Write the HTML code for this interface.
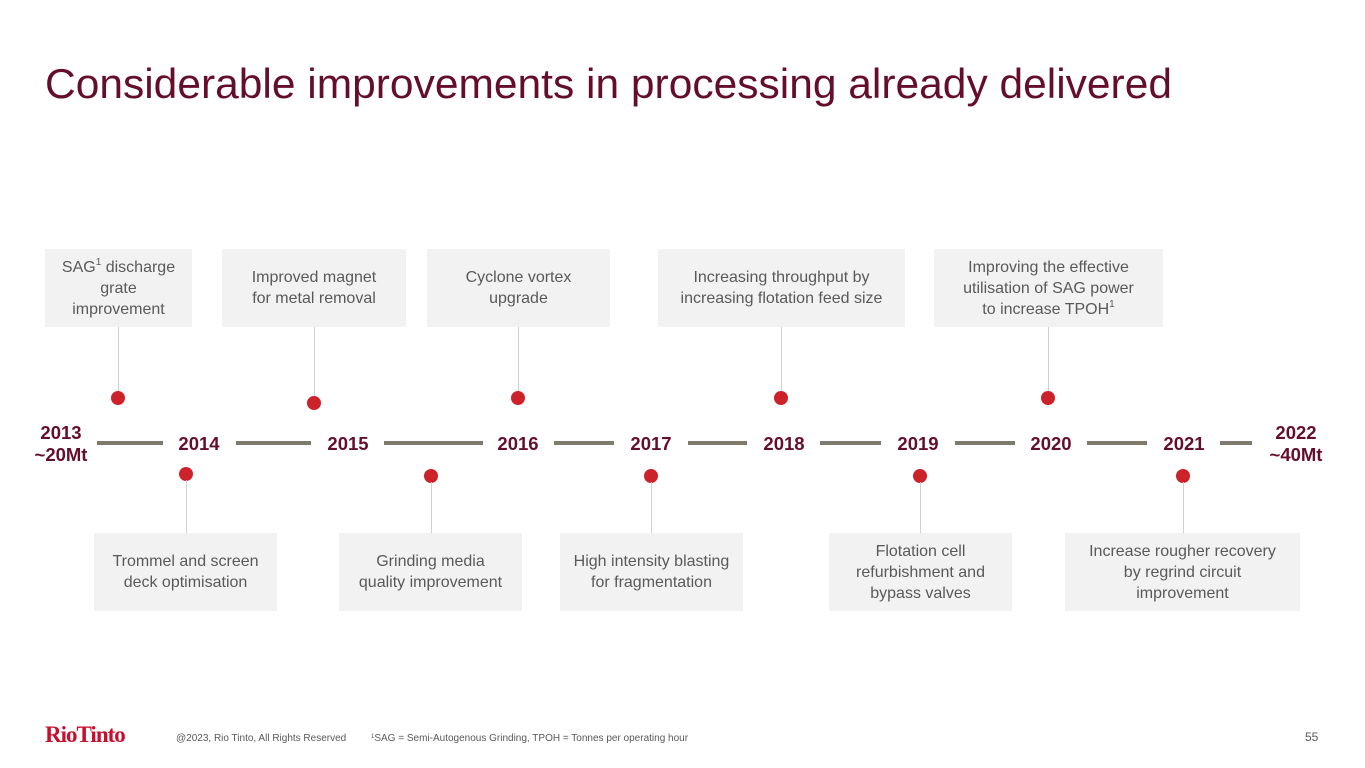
<!DOCTYPE html>
<html><head><meta charset="utf-8"><style>
body{margin:0;width:1365px;height:768px;background:#fff;position:relative;overflow:hidden;font-family:"Liberation Sans",Arial,sans-serif}
.abs{position:absolute}
.box{position:absolute;background:#f2f2f2;color:#595959;font-size:16px;line-height:21px;text-align:center;display:flex;align-items:center;justify-content:center}
.seg{position:absolute;height:4px;background:#7f7a6d;top:441px}
.yr{position:absolute;color:#650e2c;font-weight:bold;font-size:18.5px;text-align:center;width:80px;line-height:22px}
.dot{position:absolute;width:14px;height:14px;border-radius:50%;background:#cc2229}
.con{position:absolute;width:1px;background:#d0d0d0}
sup{font-size:10px;vertical-align:7px;line-height:0}
</style></head><body>
<svg class="abs" style="left:0;top:0" width="1365" height="120"><text x="45" y="98" font-size="42" fill="#650e2c" textLength="1127" lengthAdjust="spacingAndGlyphs" font-family="Liberation Sans, Arial, sans-serif">Considerable improvements in processing already delivered</text></svg>

<div>
<div class="seg" style="left:97px;width:66px"></div>
<div class="seg" style="left:236px;width:75px"></div>
<div class="seg" style="left:384px;width:99px"></div>
<div class="seg" style="left:554px;width:60px"></div>
<div class="seg" style="left:688px;width:59px"></div>
<div class="seg" style="left:820px;width:61px"></div>
<div class="seg" style="left:955px;width:60px"></div>
<div class="seg" style="left:1087px;width:60px"></div>
<div class="seg" style="left:1220px;width:32px"></div>
</div>

<div class="yr" style="left:21px;top:422px">2013<br>~20Mt</div>
<div class="yr" style="left:159px;top:433px">2014</div>
<div class="yr" style="left:308px;top:433px">2015</div>
<div class="yr" style="left:478px;top:433px">2016</div>
<div class="yr" style="left:611px;top:433px">2017</div>
<div class="yr" style="left:744px;top:433px">2018</div>
<div class="yr" style="left:878px;top:433px">2019</div>
<div class="yr" style="left:1011px;top:433px">2020</div>
<div class="yr" style="left:1144px;top:433px">2021</div>
<div class="yr" style="left:1256px;top:422px">2022<br>~40Mt</div>

<div class="box" style="left:45px;top:249px;width:147px;height:78px"><div>SAG<sup>1</sup> discharge<br>grate<br>improvement</div></div>
<div class="con" style="left:118px;top:327px;height:65px"></div><div class="dot" style="left:111px;top:391px"></div>
<div class="box" style="left:222px;top:249px;width:184px;height:78px"><div>Improved magnet<br>for metal removal</div></div>
<div class="con" style="left:314px;top:327px;height:70px"></div><div class="dot" style="left:307px;top:396px"></div>
<div class="box" style="left:427px;top:249px;width:183px;height:78px"><div>Cyclone vortex<br>upgrade</div></div>
<div class="con" style="left:518px;top:327px;height:65px"></div><div class="dot" style="left:511px;top:391px"></div>
<div class="box" style="left:658px;top:249px;width:247px;height:78px"><div>Increasing throughput by<br>increasing flotation feed size</div></div>
<div class="con" style="left:781px;top:327px;height:65px"></div><div class="dot" style="left:774px;top:391px"></div>
<div class="box" style="left:934px;top:249px;width:229px;height:78px"><div>Improving the effective<br>utilisation of SAG power<br>to increase TPOH<sup>1</sup></div></div>
<div class="con" style="left:1048px;top:327px;height:65px"></div><div class="dot" style="left:1041px;top:391px"></div>

<div class="dot" style="left:179px;top:467px"></div><div class="con" style="left:186px;top:480px;height:53px"></div>
<div class="box" style="left:94px;top:533px;width:183px;height:78px"><div>Trommel and screen<br>deck optimisation</div></div>
<div class="dot" style="left:424px;top:469px"></div><div class="con" style="left:431px;top:482px;height:51px"></div>
<div class="box" style="left:339px;top:533px;width:183px;height:78px"><div>Grinding media<br>quality improvement</div></div>
<div class="dot" style="left:644px;top:469px"></div><div class="con" style="left:651px;top:482px;height:51px"></div>
<div class="box" style="left:560px;top:533px;width:183px;height:78px"><div>High intensity blasting<br>for fragmentation</div></div>
<div class="dot" style="left:913px;top:469px"></div><div class="con" style="left:920px;top:482px;height:51px"></div>
<div class="box" style="left:829px;top:533px;width:183px;height:78px"><div>Flotation cell<br>refurbishment and<br>bypass valves</div></div>
<div class="dot" style="left:1176px;top:469px"></div><div class="con" style="left:1183px;top:482px;height:51px"></div>
<div class="box" style="left:1065px;top:533px;width:235px;height:78px"><div>Increase rougher recovery<br>by regrind circuit<br>improvement</div></div>

<div class="abs" style="left:45px;top:722px;font-family:'Liberation Serif',serif;font-size:23px;font-weight:bold;color:#c8102e;letter-spacing:-1px">RioTinto</div>
<div class="abs" style="left:176px;top:733px;font-size:10px;color:#595959">@2023, Rio Tinto, All Rights Reserved</div>
<div class="abs" style="left:371px;top:733px;font-size:10px;color:#595959"><span style="font-size:6px;vertical-align:3px">1</span>SAG = Semi-Autogenous Grinding, TPOH = Tonnes per operating hour</div>
<div class="abs" style="left:1305px;top:730px;font-size:12px;color:#595959">55</div>
</body></html>
